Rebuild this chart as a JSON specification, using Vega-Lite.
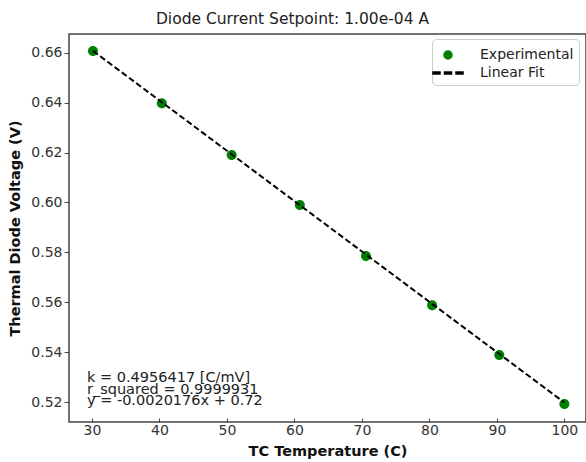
{
  "$schema": "https://vega.github.io/schema/vega-lite/v6.json",
  "autosize": "none",
  "width": 517,
  "height": 388,
  "padding": {"left": 69, "top": 34, "right": 0, "bottom": 40},
  "background": "white",
  "title": {
    "text": "Diode Current Setpoint: 1.00e-04 A",
    "font": "DejaVu Sans",
    "fontSize": 15.5,
    "fontWeight": "normal",
    "color": "#222",
    "anchor": "middle",
    "dx": -35,
    "offset": 7
  },
  "config": {
    "font": "DejaVu Sans",
    "view": {"stroke": "#444", "strokeWidth": 1.5},
    "axis": {
      "grid": false,
      "domain": false,
      "labelFont": "DejaVu Sans",
      "labelFontSize": 14,
      "labelColor": "#333",
      "tickColor": "#444",
      "tickWidth": 1,
      "titleFont": "DejaVu Sans",
      "titleFontSize": 14.5,
      "titleFontWeight": "bold",
      "titleColor": "#111"
    },
    "legend": {
      "labelFont": "DejaVu Sans",
      "labelFontSize": 14,
      "labelColor": "#222",
      "title": null,
      "orient": "none",
      "legendX": 363,
      "legendY": 5,
      "padding": 5,
      "symbolSize": 400,
      "symbolOffset": 0,
      "labelOffset": 21,
      "rowPadding": 0,
      "strokeColor": "#ccc",
      "fillColor": "white",
      "cornerRadius": 4
    }
  },
  "datasets": {
    "measured": [
      {"T": 30.15, "V": 0.6607, "series": "Experimental"},
      {"T": 40.35, "V": 0.6397, "series": "Experimental"},
      {"T": 50.7, "V": 0.6190, "series": "Experimental"},
      {"T": 60.8, "V": 0.5990, "series": "Experimental"},
      {"T": 70.6, "V": 0.5785, "series": "Experimental"},
      {"T": 80.4, "V": 0.5588, "series": "Experimental"},
      {"T": 90.35, "V": 0.5389, "series": "Experimental"},
      {"T": 100.0, "V": 0.5192, "series": "Experimental"}
    ],
    "fit": [
      {"T": 30.15, "V": 0.66074, "series": "Linear Fit"},
      {"T": 40.35, "V": 0.64016, "series": "Linear Fit"},
      {"T": 50.7, "V": 0.61928, "series": "Linear Fit"},
      {"T": 60.8, "V": 0.59890, "series": "Linear Fit"},
      {"T": 70.6, "V": 0.57913, "series": "Linear Fit"},
      {"T": 80.4, "V": 0.55936, "series": "Linear Fit"},
      {"T": 90.35, "V": 0.53928, "series": "Linear Fit"},
      {"T": 100.0, "V": 0.51981, "series": "Linear Fit"}
    ],
    "note": [
      {"T": 29.26, "V": 0.528, "label": "k = 0.4956417 [C/mV]\nr_squared = 0.9999931\ny = -0.0020176x + 0.72"}
    ]
  },
  "encoding": {
    "x": {
      "field": "T",
      "type": "quantitative",
      "scale": {"domain": [26.6, 103.2], "nice": false, "zero": false},
      "axis": {
        "title": "TC Temperature (C)",
        "values": [30, 40, 50, 60, 70, 80, 90, 100],
        "tickSize": -4,
        "labelPadding": 5,
        "titlePadding": 7
      }
    },
    "y": {
      "field": "V",
      "type": "quantitative",
      "scale": {"domain": [0.512, 0.6675], "nice": false, "zero": false},
      "axis": {
        "title": "Thermal Diode Voltage (V)",
        "values": [0.52, 0.54, 0.56, 0.58, 0.6, 0.62, 0.64, 0.66],
        "format": ".2f",
        "tickSize": 5,
        "labelPadding": 2,
        "titlePadding": 8
      }
    }
  },
  "layer": [
    {
      "data": {"name": "measured"},
      "mark": {"type": "point", "filled": true, "size": 625, "opacity": 1},
      "encoding": {
        "color": {
          "field": "series",
          "type": "nominal",
          "scale": {"domain": ["Experimental", "Linear Fit"], "range": ["#008000", "#000000"]}
        },
        "shape": {
          "field": "series",
          "type": "nominal",
          "scale": {
            "domain": ["Experimental", "Linear Fit"],
            "range": [
              "M0.4,0A0.4,0.4 0 1,1 -0.4,0A0.4,0.4 0 1,1 0.4,0Z",
              "M-1.5,-0.1H-0.8V0.1H-1.5Z M-0.35,-0.1H0.35V0.1H-0.35Z M0.8,-0.1H1.5V0.1H0.8Z"
            ]
          }
        }
      }
    },
    {
      "data": {"name": "fit"},
      "mark": {"type": "line", "strokeDash": [6, 3], "strokeWidth": 2},
      "encoding": {
        "color": {
          "field": "series",
          "type": "nominal",
          "scale": {"domain": ["Experimental", "Linear Fit"], "range": ["#008000", "#000000"]}
        }
      }
    },
    {
      "data": {"name": "note"},
      "mark": {
        "type": "text",
        "align": "left",
        "baseline": "alphabetic",
        "lineBreak": "\n",
        "lineHeight": 11.5,
        "fontSize": 14.5,
        "font": "DejaVu Sans",
        "color": "#222"
      },
      "encoding": {
        "text": {"field": "label", "type": "nominal"}
      }
    }
  ]
}
